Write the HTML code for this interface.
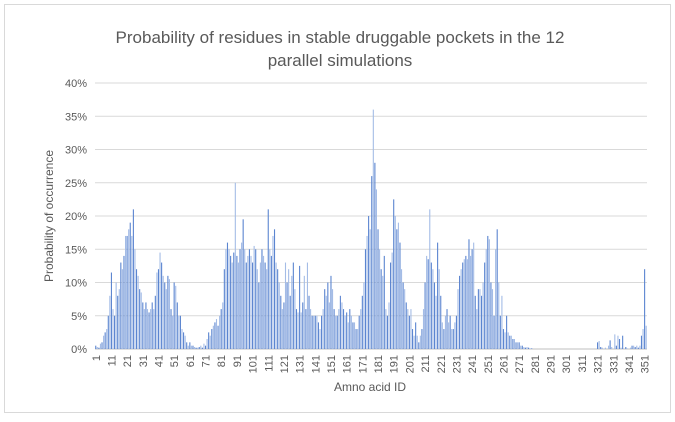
<!DOCTYPE html>
<html><head><meta charset="utf-8"><style>
body{margin:0;background:#fff;font-family:"Liberation Sans",sans-serif}
svg text{font-family:"Liberation Sans",sans-serif;fill:#595959}
</style></head><body>
<svg width="675" height="417">
<rect x="4.5" y="4.5" width="666" height="408" fill="#fff" stroke="#d9d9d9"/>
<text x="340" y="43" font-size="17" text-anchor="middle">Probability of residues in stable druggable pockets in the 12</text>
<text x="340" y="66" font-size="17" text-anchor="middle">parallel simulations</text>
<text x="53" y="216" font-size="12" text-anchor="middle" transform="rotate(-90 53 216)">Probability of occurrence</text>
<text x="370" y="391" font-size="12" text-anchor="middle">Amno acid ID</text>
<g id="grid"></g><g id="bars"></g><g id="ticks"></g>
</svg>
<script>
const yTicks=[0,5,10,15,20,25,30,35,40];
const values=[
0.5,0.3,0.2,0.8,1,2,2.5,3,5,8,
11.5,6,5,10,8,9,13,12,14,17,
17,18,19,17,21,15,12,11,9,8.5,
7,6,7,6,5.5,6,7,6,8,11.5,
12,14.5,13,11,10,9,11,10.5,6,5,
10,9.5,7,5,5,3,2.5,2,1,0.5,
1,0.5,0.5,0.3,0.2,0.2,0.3,0.5,0.2,0.8,
0.5,1.5,2.5,2,3,3.5,4,4.5,3.5,5,
6,7,12,15,16,15,14,13,14.5,25,
14,13,15,16,19.5,15,13,14,15,14,
13,15.5,15,12,10,13,15,14,13,12,
21,15,14,17,18,13,12,10,8,6,
7,13,10,12,8,11,13,9,6,5.5,
12.5,5.5,7,11,6,13,8,6,5,5,
5,5,4,3,5,6,9,8,10,7,
11,9,6,5,5,6,8,7,6,5,
5.5,4,6,5,4,4,3,3,5,6,
8,10,15,17,20,18,26,36,28,24,
18,15,12,11,14,6,5,7,13,14.5,
22.5,20,18,19,16,12,10,9,7,6,
5,6,3,2,4,2,1,2,3,6,
10,14,13.5,21,13,12,10,8,16,12,
8,4,3,5,6,4,5,3,3,4,
5,9,11,12,13,13.5,14,13.5,16.5,14,
15,16,8,6,9,9,8,10,13,15,
17,16.5,10,9,5,15,18,10,5,8,
3,2.5,5,2.5,2,2,1.5,1.5,1,1,
1,0.5,0.5,0.3,0.2,0.3,0.2,0.1,0.1,0,
0,0,0,0,0,0,0,0,0,0,
0,0,0,0,0,0,0,0,0,0,
0,0,0,0,0,0,0,0,0,0,
0,0,0,0,0,0,0,0,0,0,
1,1.2,0.3,0.2,0,0.2,0,0.5,1.3,0.3,
0,2.2,0.5,2,1.5,0.2,2,0,0.3,0.1,
0,0.2,0.5,0.5,0.3,0.5,0.2,0.5,2,3,
12,3.5];
const xLabels=[];for(let i=1;i<=351;i+=10)xLabels.push(i);
const ns="http://www.w3.org/2000/svg";
const X0=95,X1=647,Y0=349,Y1=83;
const step=(X1-X0)/values.length;
function xs(i){return X0+(i-1)*step;}
function ys(v){return Y0-(v/40)*(Y0-Y1);}
const grid=document.getElementById('grid'),bars=document.getElementById('bars'),ticks=document.getElementById('ticks');
yTicks.forEach(t=>{
 const l=document.createElementNS(ns,'line');
 l.setAttribute('x1',X0);l.setAttribute('x2',X1);l.setAttribute('y1',ys(t));l.setAttribute('y2',ys(t));
 l.setAttribute('stroke',t===0?'#bfbfbf':'#d9d9d9');
 
 
 grid.appendChild(l);
 const tx=document.createElementNS(ns,'text');
 tx.setAttribute('x',X0-8);tx.setAttribute('y',ys(t)+4);tx.setAttribute('font-size','11');tx.setAttribute('text-anchor','end');
 tx.textContent=t+'%';
 
 
 ticks.appendChild(tx);
});
values.forEach((v,k)=>{
 if(v<=0)return;
 const r=document.createElementNS(ns,'rect');
 r.setAttribute('x',xs(k+1)+0.2);r.setAttribute('y',ys(v));r.setAttribute('width',step*0.7);r.setAttribute('height',Y0-ys(v));
 r.setAttribute('fill',k%2?'#a4bce6':'#5b85d0');
 
 
 bars.appendChild(r);
});
xLabels.forEach(n=>{
 const x=xs(n)+step/2, y=Y0+6;
 const tx=document.createElementNS(ns,'text');
 tx.setAttribute('x',x+4);tx.setAttribute('y',y);tx.setAttribute('font-size','11');tx.setAttribute('text-anchor','end');
 tx.setAttribute('transform','rotate(-90 '+(x+4)+' '+y+')');
 tx.textContent=n;
 
 
 ticks.appendChild(tx);
});
</script>
</body></html>
